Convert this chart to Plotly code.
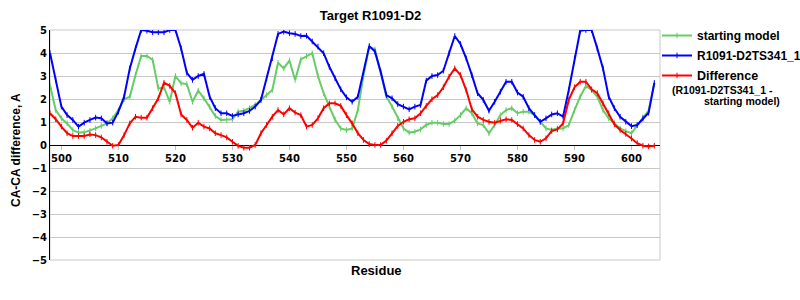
import plotly.graph_objects as go

# ---------------- data ----------------
residues = list(range(498, 605))

starting_model = [
    2.6, 1.52, 1.16, 0.94, 0.65, 0.54, 0.55, 0.62, 0.72, 0.83,   # 498-507
    0.94, 1.16, 1.52, 1.99, 2.1, 3.04, 3.87, 3.87, 3.7, 2.46,    # 508-517
    2.5, 1.88, 3.0, 2.68, 2.65, 1.88, 2.36, 2.03, 1.67, 1.26,    # 518-527
    1.09, 1.09, 1.12, 1.45, 1.49, 1.6, 1.74, 1.96, 2.17, 2.39,   # 528-537
    3.58, 3.33, 3.67, 2.83, 3.72, 3.87, 3.99, 3.0, 2.25, 1.67,   # 538-547
    1.1, 0.72, 0.65, 0.72, 1.52, 3.04, 4.28, 4.16, 3.19, 2.1,    # 548-557
    1.67, 1.16, 0.72, 0.54, 0.58, 0.68, 0.87, 0.97, 0.97, 0.91,  # 558-567
    0.91, 1.06, 1.3, 1.6, 1.38, 0.94, 0.87, 0.51, 0.87, 1.3,     # 568-577
    1.52, 1.6, 1.38, 1.45, 1.45, 1.3, 1.01, 0.72, 0.65, 0.72,    # 578-587
    0.72, 0.87, 1.52, 2.1, 2.57, 2.39, 2.1, 1.52, 1.16, 0.94,    # 588-597
    0.72, 0.6, 0.51, 0.85, 1.2, 1.5, 2.65,                       # 598-604
]

model_ts341 = [
    4.0, 2.83, 1.67, 1.3, 1.09, 0.8, 0.97, 1.09, 1.19, 1.16,     # 498-507
    0.94, 0.97, 1.45, 2.1, 3.33, 4.2, 5.0, 4.97, 4.9, 4.9,       # 508-517
    4.9, 5.0, 5.0, 4.2, 3.14, 2.83, 3.0, 3.09, 2.1, 1.6,         # 518-527
    1.38, 1.38, 1.26, 1.33, 1.38, 1.48, 1.67, 1.96, 2.9, 3.77,   # 528-537
    4.83, 4.93, 4.86, 4.83, 4.74, 4.75, 4.5, 4.28, 3.99, 3.4,    # 538-547
    2.9, 2.42, 2.07, 1.88, 2.1, 3.19, 4.3, 4.06, 3.19, 2.17,     # 548-557
    2.03, 1.78, 1.67, 1.55, 1.67, 1.74, 2.8, 3.0, 3.04, 3.23,    # 558-567
    3.99, 4.74, 4.39, 3.77, 3.04, 2.25, 1.96, 1.49, 1.88, 2.32,  # 568-577
    2.75, 2.75, 2.28, 2.1, 1.6, 1.3, 1.01, 1.16, 1.33, 1.38,     # 578-587
    1.23, 2.39, 3.77, 4.97, 5.0, 5.0, 4.2, 3.33, 2.1, 1.6,       # 588-597
    1.23, 1.01, 0.82, 0.87, 1.15, 1.4, 2.7,                      # 598-604
]

difference = [
    1.38, 1.12, 0.8, 0.51, 0.39, 0.39, 0.39, 0.46, 0.43, 0.33,   # 498-507
    0.14, -0.03, 0.0, 0.43, 0.94, 1.23, 1.19, 1.19, 1.6, 2.03,   # 508-517
    2.71, 2.57, 2.25, 1.33, 1.09, 0.75, 0.97, 0.8, 0.72, 0.51,   # 518-527
    0.43, 0.33, 0.14, -0.04, -0.12, -0.12, 0.0, 0.51, 0.87, 1.23,  # 528-537
    1.52, 1.33, 1.6, 1.41, 1.3, 0.8, 0.87, 1.16, 1.6, 1.81,      # 538-547
    1.81, 1.7, 1.3, 0.94, 0.51, 0.22, 0.04, 0.0, 0.0, 0.19,      # 548-557
    0.51, 0.83, 1.01, 1.12, 1.16, 1.38, 1.7, 1.99, 2.17, 2.51,   # 558-567
    2.97, 3.33, 3.04, 2.39, 1.55, 1.23, 1.09, 1.01, 0.97, 1.06,  # 568-577
    1.12, 1.09, 0.91, 0.72, 0.43, 0.22, 0.14, 0.29, 0.61, 0.68,  # 578-587
    0.94, 1.96, 2.51, 2.75, 2.75, 2.42, 2.25, 1.81, 1.38, 0.9,   # 588-597
    0.65, 0.48, 0.28, 0.08, -0.03, -0.06, -0.03,                 # 598-604
]

series_names = ["starting model", "R1091-D2TS341_1",
                "<span style='font-size:12.5px'>Difference</span>"]
series_colors = ["#66cc66", "#0000ff", "#ff0000"]
x_ticks = list(range(500, 601, 10))
y_ticks = list(range(-5, 6))

# ---------------- layout helpers ----------------
W, H = 800, 300
L, R, T, B = 50, 140, 30, 40
PW, PH = W - L - R, H - T - B


def px_x(px):
    return (px - L) / PW


def px_y(py):
    return (H - B - py) / PH


ARIAL = "Liberation Sans, Arial, sans-serif"
DEJAVU = "DejaVu Sans, Verdana, sans-serif"

fig = go.Figure()
for i, (name, ys, col) in enumerate(zip(series_names,
                                        [starting_model, model_ts341, difference],
                                        series_colors)):
    fig.add_trace(go.Scatter(
        x=residues, y=ys, name=name, mode="lines+markers", legendgroup=f"g{i}",
        line=dict(color=col, width=2),
        marker=dict(symbol="line-ns-open", size=4, color=col, line=dict(color=col, width=1)),
    ))

fig.update_layout(
    width=W, height=H,
    margin=dict(l=L, r=R, t=T, b=B, pad=0, autoexpand=False),
    paper_bgcolor="white", plot_bgcolor="white",
    title=dict(text="Target R1091-D2", xref="container", yref="container",
               x=370.5 / W, y=1 - 15 / H, xanchor="center", yanchor="middle",
               font=dict(family=ARIAL, size=13, color="black", weight="bold")),
    showlegend=True,
    legend=dict(x=px_x(657), y=px_y(21), xanchor="left", yanchor="top",
                traceorder="grouped", tracegroupgap=1,
                font=dict(family=ARIAL, size=12, color="black", weight="bold"),
                bgcolor="rgba(0,0,0,0)", borderwidth=0,
                itemclick=False, itemdoubleclick=False),
    xaxis=dict(range=[498, 605], anchor="free", position=0.5,
               tickvals=x_ticks, ticks="outside", ticklen=4, tickcolor="#c0c0c0",
               tickfont=dict(family=DEJAVU, size=10, color="black", weight="bold"),
               showgrid=False, zeroline=False, showline=False),
    yaxis=dict(range=[-5, 5], tickvals=y_ticks, ticks="",
               tickfont=dict(family=DEJAVU, size=10, color="black", weight="bold"),
               showgrid=True, gridcolor="#c8c8c8", gridwidth=1,
               zeroline=True, zerolinecolor="black", zerolinewidth=1,
               showline=True, linecolor="black", linewidth=1),
    shapes=[dict(type="rect", xref="paper", yref="paper", x0=0, x1=1, y0=0, y1=1,
                 line=dict(color="#c8c8c8", width=1), layer="below")],
    annotations=[
        dict(text="CA-CA difference, A", xref="paper", yref="paper",
             x=px_x(16), y=px_y(150), textangle=-90, showarrow=False,
             xanchor="center", yanchor="middle",
             font=dict(family=ARIAL, size=12, color="black", weight="bold")),
        dict(text="Residue", xref="paper", yref="paper",
             x=px_x(376), y=px_y(270), showarrow=False,
             xanchor="center", yanchor="middle",
             font=dict(family=ARIAL, size=13, color="black", weight="bold")),
        dict(text="(R1091-D2TS341_1 -", xref="paper", yref="paper",
             x=px_x(670), y=px_y(90), showarrow=False,
             xanchor="left", yanchor="middle",
             font=dict(family=ARIAL, size=10.5, color="black", weight="bold")),
        dict(text="starting model)", xref="paper", yref="paper",
             x=px_x(702), y=px_y(101), showarrow=False,
             xanchor="left", yanchor="middle",
             font=dict(family=ARIAL, size=10.5, color="black", weight="bold")),
    ],
)

fig.write_html("out.html")
